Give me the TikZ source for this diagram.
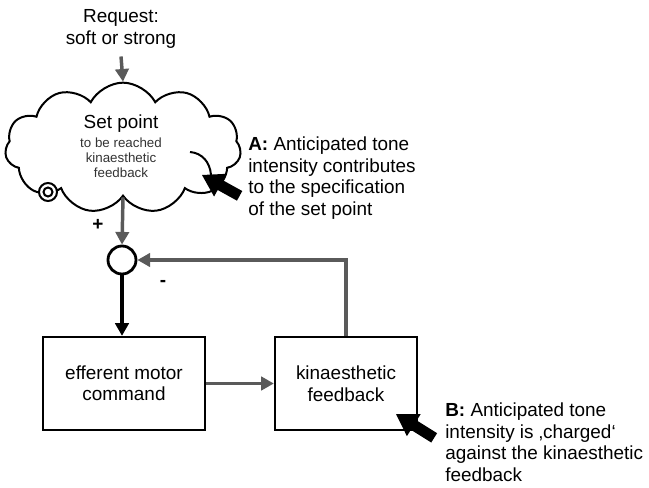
\documentclass[tikz,border=0pt]{standalone}
\usepackage{fontspec}
\setmainfont{Liberation Sans}
\usetikzlibrary{shapes.symbols,arrows.meta}
\definecolor{arrgray}{HTML}{5A5A5A}
\begin{document}
\begin{tikzpicture}[x=0.75pt,y=-0.75pt,
  txt/.style={font=\fontsize{14.2}{16.1}\selectfont, inner sep=0pt},
  smalltxt/.style={font=\fontsize{10}{11.25}\selectfont, inner sep=0pt, text=black!80},
  boxnode/.style={draw, line width=1.7pt, minimum height=69.75pt, align=center, font=\fontsize{14.2}{16.1}\selectfont},
  grayarrow/.style={draw=arrgray, line width=2.6pt, -{Triangle[length=9.5pt,width=10pt]}},
  blackarrow/.style={draw=black, line width=2.4pt, -{Triangle[length=9.5pt,width=10pt]}},
  blockarrow/.style={fill=black}]
\useasboundingbox (0,0) rectangle (649,488);

% request
\node[txt, align=center] (req) at (121,29) {Request:\\soft or strong};

% cloud
\node[cloud, draw, line width=1.5pt, cloud puffs=11, cloud puff arc=125, cloud ignores aspect,
      minimum width=177pt, minimum height=98pt, inner sep=0pt] (cloud) at (123,148) {};
\node[txt] (setpt) at (121,124) {Set point};
\node[smalltxt, align=center] (setsub) at (121,158) {to be reached\\kinaesthetic\\feedback};
\draw[line width=1.5pt] (190,152) .. controls (202,153) and (210,162) .. (211,175);
\draw[line width=1.5pt, fill=white] (48,192) circle (9);
\draw[line width=1.5pt] (48,192) circle (4.5);

% summing junction
\node[draw, circle, line width=2.1pt, minimum size=21pt, inner sep=0pt] (sum) at (122,260) {};
\node[txt, font=\bfseries\fontsize{14.2}{16.1}\selectfont] (plus) at (98,225) {+};
\node[txt, font=\bfseries\fontsize{14.2}{16.1}\selectfont] (minus) at (163,283) {-};

% boxes
\node[boxnode, minimum width=121.5pt] (eff) at (124,383.5) {efferent motor\\command};
\node[boxnode, minimum width=106.5pt] (kin) at (346,383.5) {kinaesthetic\\feedback};

% connectors
\draw[grayarrow] (req.south) ++(0,8) -- (cloud.north);
\draw[grayarrow] (cloud.south) -- (sum.north);
\draw[blackarrow] (sum.south) -- (sum.south |- eff.north);
\draw[grayarrow] (eff.east) -- (kin.west);
\draw[grayarrow] (kin.north) |- (sum.east);

% block arrows
\begin{scope}[shift={(202,175)}, rotate=-29]
  \fill[blockarrow] (0,0) -- (21,-13) -- (21,-5.5) -- (43,-5.5) -- (43,5.5) -- (21,5.5) -- (21,13) -- cycle;
\end{scope}
\begin{scope}[shift={(396,414)}, rotate=-32]
  \fill[blockarrow] (0,0) -- (21,-13) -- (21,-5.5) -- (45,-5.5) -- (45,5.5) -- (21,5.5) -- (21,13) -- cycle;
\end{scope}

% annotations
\node[txt, align=left, anchor=north west] (annA) at (248,137) {\textbf{A:} Anticipated tone\\intensity contributes\\to the specification\\of the set point};
\node[txt, align=left, anchor=north west] (annB) at (445,403) {\textbf{B:} Anticipated tone\\intensity is ‚charged‘\\against the kinaesthetic\\feedback};
\end{tikzpicture}
\end{document}
